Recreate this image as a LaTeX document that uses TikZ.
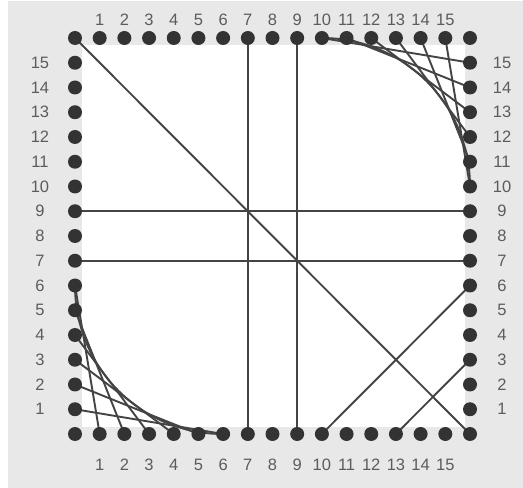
\documentclass[tikz,border=0pt]{standalone}
\usepackage{fontspec}
\setmainfont{Liberation Sans}
\definecolor{bgc}{HTML}{E8E8E8}
\definecolor{dotc}{HTML}{333333}
\definecolor{linec}{HTML}{444444}
\definecolor{labc}{HTML}{5C5C5C}
\begin{document}
\begin{tikzpicture}[x=1pt,y=1pt,
  dot/.style={circle,fill=dotc,inner sep=0pt,minimum size=14pt},
  wire/.style={draw=linec,line width=1.9pt},
  lab/.style={text=labc,font=\fontsize{16.5}{16.5}\selectfont,inner sep=0pt}]
\useasboundingbox (0,0) rectangle (523,488);
\fill[white] (0,0) rectangle (523,488);
\fill[bgc] (8,0) rectangle (523,487);
\fill[white] (82,61) rectangle (465,443);
% positions
\foreach \i in {0,...,16} {
  \coordinate (T\i) at ({75+24.6875*\i},450);
  \coordinate (B\i) at ({75+24.6875*\i},54);
}
\foreach \i in {1,...,15} {
  \coordinate (L\i) at (75,{54+24.75*\i});
  \coordinate (R\i) at (470,{54+24.75*\i});
}
% connectors
\draw[wire] (T7) -- (B7);
\draw[wire] (T9) -- (B9);
\draw[wire] (L9) -- (R9);
\draw[wire] (L7) -- (R7);
\draw[wire] (T0) -- (B16);
\draw[wire] (B10) -- (R6);
\draw[wire] (B13) -- (R3);
\foreach \i in {1,...,6} {
  \pgfmathtruncatemacro\j{7-\i}
  \draw[wire] (L\i) -- (B\j);
}
\draw[wire] (L6) to[out=-90,in=180] (B6);
\foreach \i in {10,...,15} {
  \pgfmathtruncatemacro\k{25-\i}
  \draw[wire] (T\i) -- (R\k);
}
\draw[wire] (T10) to[out=0,in=90] (R10);
% dots and labels
\foreach \i in {0,...,16} {
  \node[dot] (dT\i) at (T\i) {};
  \node[dot] (dB\i) at (B\i) {};
}
\foreach \i in {1,...,15} {
  \node[dot] (dL\i) at (L\i) {};
  \node[dot] (dR\i) at (R\i) {};
  \node[lab] (lT\i) at ([yshift=18pt]T\i) {\i};
  \node[lab] (lB\i) at ([yshift=-31pt]B\i) {\i};
  \node[lab] (lL\i) at ([xshift=-35pt]L\i) {\i};
  \node[lab] (lR\i) at ([xshift=32pt]R\i) {\i};
}
\end{tikzpicture}
\end{document}
